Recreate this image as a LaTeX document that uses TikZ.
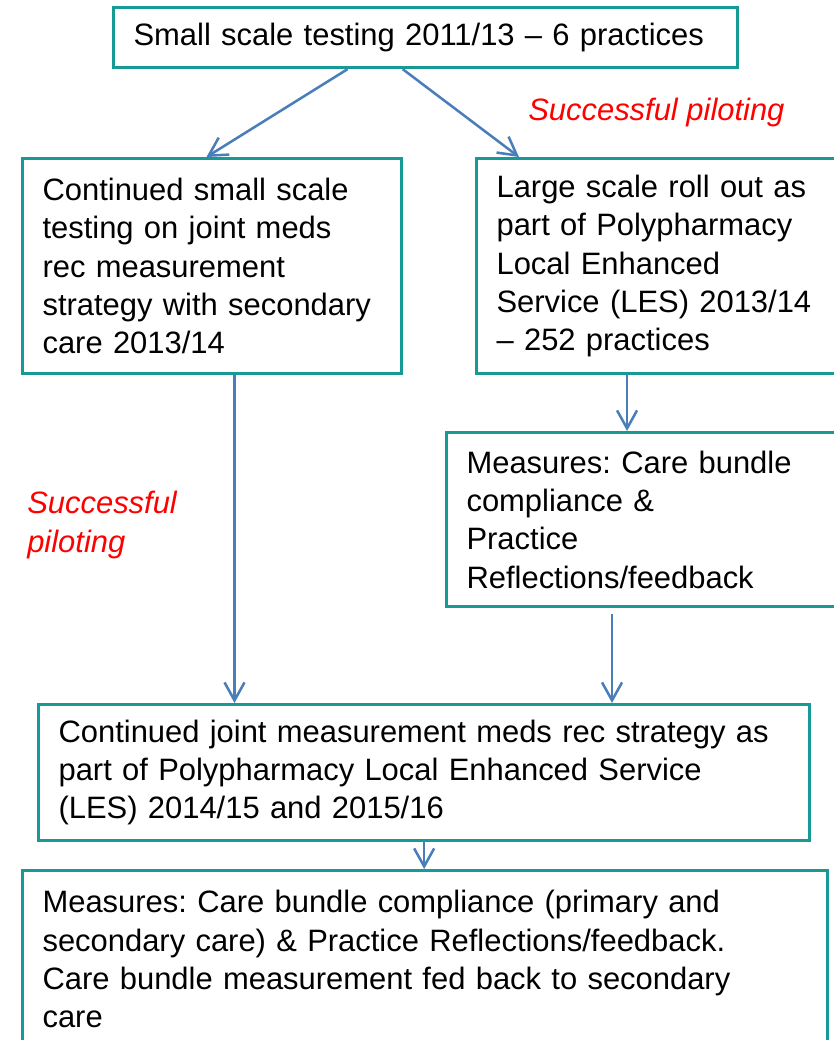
\documentclass[tikz,border=0pt]{standalone}
\usepackage{fontspec}
\setmainfont{Liberation Sans}
\usepackage{tikz}
\usetikzlibrary{arrows.meta}
\usetikzlibrary{positioning}
\definecolor{boxteal}{RGB}{23,153,150}
\definecolor{arrowblue}{RGB}{74,126,187}
\tikzstyle{box}=[draw=boxteal,line width=2.2pt,anchor=north west,align=left,inner xsep=0.5cm,inner ysep=0pt,font=\fontsize{22}{27.2}\selectfont]
\tikzstyle{flow}=[draw=arrowblue,line width=1.8pt,-{Straight Barb[length=4.5mm,width=5mm]}]
\tikzstyle{note}=[text=red,font=\fontsize{22}{27.2}\selectfont\itshape,align=left,inner sep=0pt]
\frenchspacing

\begin{document}
\begin{tikzpicture}[x=0.025cm,y=-0.025cm]
\clip (0,0) rectangle (834,1040);
\node[box,text width=14.6cm,minimum height=1.5cm] (start) at (112,6) {Small scale testing 2011/13 -- 6 practices};
\node[box,text width=8.475cm,minimum height=5.375cm] (small) at (21,157) {Continued small scale\\testing on joint meds\\rec measurement\\strategy with secondary\\care 2013/14};
\node[box,text width=8.25cm,minimum height=5.375cm] (large) at (475,157) {Large scale roll out as\\part of Polypharmacy\\Local Enhanced\\Service (LES) 2013/14\\-- 252 practices};
\node[box,text width=9cm,minimum height=4.35cm] (measures) at (445,431) {Measures: Care bundle\\compliance \&\\Practice\\Reflections/feedback};
\node[box,text width=18.275cm,minimum height=3.4cm] (joint) at (37,703) {Continued joint measurement meds rec strategy as\\part of Polypharmacy Local Enhanced Service\\(LES) 2014/15 and 2015/16};
\node[box,text width=19.125cm,minimum height=4.425cm] (final) at (21,869) {Measures: Care bundle compliance (primary and\\secondary care) \& Practice Reflections/feedback.\\Care bundle measurement fed back to secondary\\care};

\node[note,anchor=west] (pilotright) at (528,112) {Successful piloting};
\node[note,anchor=west] (pilotleft) at (27,525) {Successful\\piloting};

\coordinate (A) at ([xshift=-1.95cm]start.south);
\coordinate (B) at ([xshift=-0.575cm]start.south);
\coordinate (C) at ([xshift=1.1cm]large.north west);
\draw[flow] (A) -- ([xshift=-0.14cm]small.north);
\draw[flow] (B) -- (C);

\coordinate (D) at ([xshift=0.56cm]small.south);
\coordinate (E) at ([xshift=3.8cm]large.south west);
\coordinate (F) at ([xshift=4.175cm,yshift=-0.15cm]measures.south west);
\draw[flow] (D) -- (D |- joint.north);
\draw[flow] (E) -- (E |- measures.north);
\draw[flow] (F) -- (F |- joint.north);
\draw[flow] (joint.south) -- (joint.south |- final.north);
\end{tikzpicture}
\end{document}
